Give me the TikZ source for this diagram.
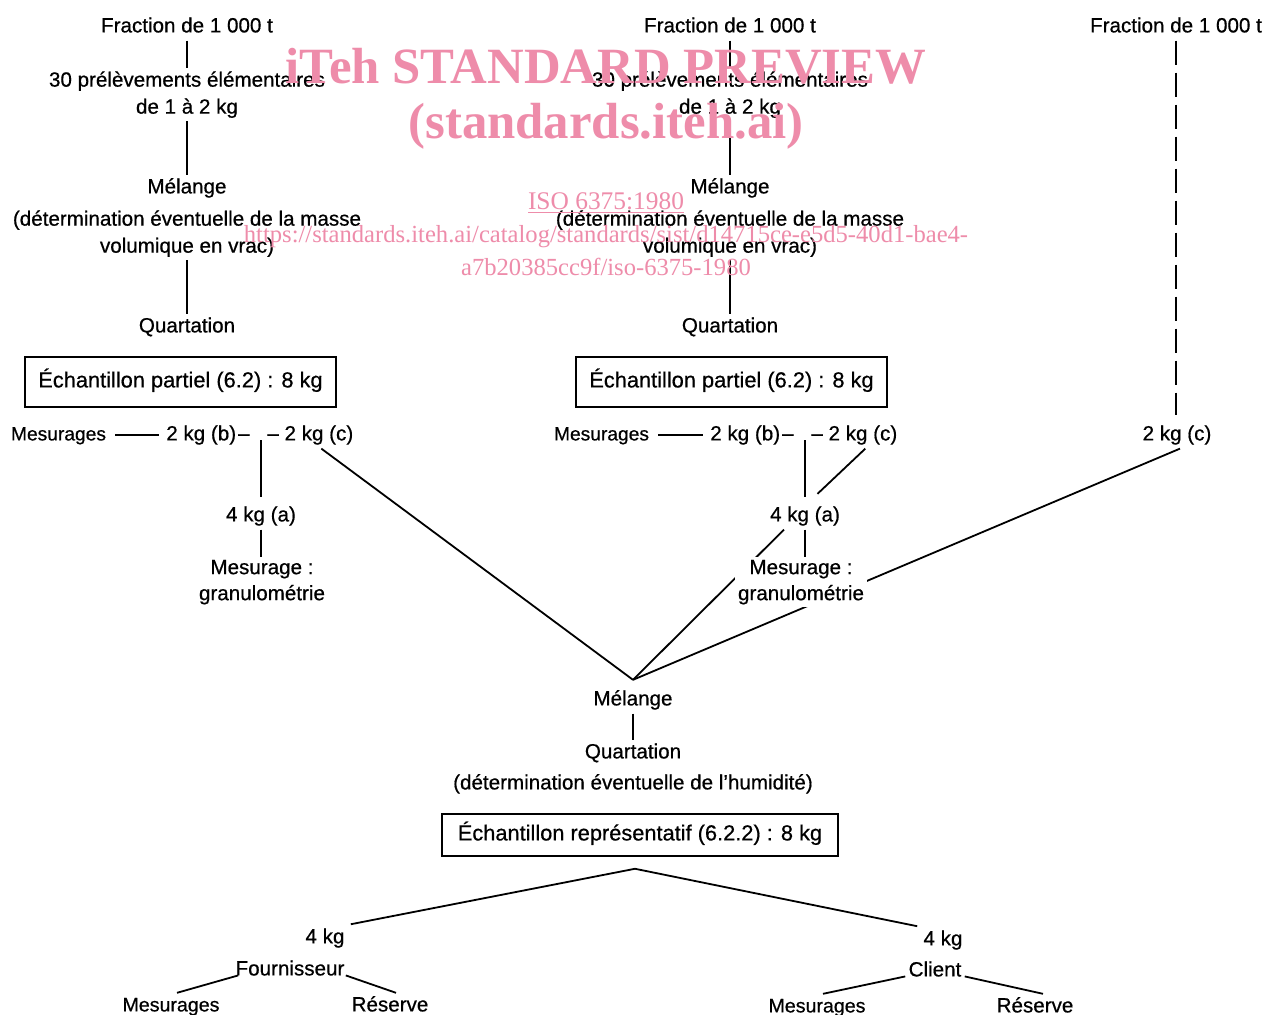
\documentclass[tikz,border=0pt]{standalone}
\usepackage{fontspec}
\setmainfont{Liberation Sans}[FakeBold=0.6]
\newfontfamily\wmfont{Liberation Serif}
\usetikzlibrary{calc}
\definecolor{wmpink}{RGB}{238,140,170}
\pgfdeclarelayer{bg}
\pgfdeclarelayer{lines}
\pgfsetlayers{bg,lines,main}
\begin{document}
\begin{tikzpicture}[x=0.5pt,y=-0.5pt,
  txt/.style={font=\fontsize{10.3}{13.5}\selectfont, inner sep=1.5pt, text height=7.6pt, text depth=2.4pt, yshift=-1.1pt},
  txtm/.style={font=\fontsize{10.3}{13.5}\selectfont, inner sep=1.5pt, align=center, yshift=-1.1pt},
  txtg/.style={font=\fontsize{10.3}{13}\selectfont, inner sep=1.5pt, align=center, yshift=-1.1pt},
  boxed/.style={draw, line width=0.75pt, font=\fontsize{10.9}{13}\selectfont, text height=7.9pt, text depth=2.5pt, inner sep=0pt, minimum width=155.5pt, minimum height=25pt},
  conn/.style={line width=0.9pt},
  wm/.style={text=wmpink, inner sep=0pt}]
\useasboundingbox (0,0) rectangle (1268,1014);
\begin{pgfonlayer}{bg}
\fill[white] (0,0) rectangle (1268,1014);
\end{pgfonlayer}

% ---------- column 1 ----------
\node[txt]  (f1) at (187,25) {Fraction de 1 000 t};
\node[txtm] (p1) at (187,92.5) {30 prélèvements élémentaires\\de 1 à 2 kg};
\node[txt]  (m1) at (187,186) {Mélange};
\node[txtm] (d1) at (187,231.5) {(détermination éventuelle de la masse\\volumique en vrac)};
\node[txt]  (q1) at (187,325) {Quartation};
\node[boxed] (e1) at (180.5,382) {Échantillon partiel (6.2) : 8 kg};
\node[txt, font=\fontsize{9.6}{13}\selectfont] (r1) at (58.5,433) {Mesurages};
\node[txt,anchor=east] (b1) at (253,433) {2 kg (b)\kern1pt–};
\node[txt,anchor=west] (c1) at (264,433) {– 2 kg (c)};
\coordinate (j1) at (261,440);
\node[txt]  (a1) at (261,514) {4 kg (a)};
\node[txtg] (g1) at (262,580) {Mesurage :\\granulométrie};

% ---------- column 2 ----------
\node[txt]  (f2) at (730,25) {Fraction de 1 000 t};
\node[txtm] (p2) at (730,92.5) {30 prélèvements élémentaires\\de 1 à 2 kg};
\node[txt]  (m2) at (730,186) {Mélange};
\node[txtm] (d2) at (730,231.5) {(détermination éventuelle de la masse\\volumique en vrac)};
\node[txt]  (q2) at (730,325) {Quartation};
\node[boxed] (e2) at (731.5,382) {Échantillon partiel (6.2) : 8 kg};
\node[txt, font=\fontsize{9.6}{13}\selectfont] (r2) at (601.5,433) {Mesurages};
\node[txt,anchor=east] (b2) at (797,433) {2 kg (b)\kern1pt–};
\node[txt,anchor=west] (c2) at (808,433) {– 2 kg (c)};
\coordinate (j2) at (805,440);
\node[txt]  (a2) at (805,514) {4 kg (a)};
\node[txtg, fill=white] (g2) at (801,580) {Mesurage :\\granulométrie};

% ---------- column 3 ----------
\node[txt] (f3) at (1176,25) {Fraction de 1 000 t};
\node[txt] (c3) at (1177,433) {2 kg (c)};

% ---------- lower part ----------
\node[txt] (m3) at (633,698) {Mélange};
\node[txt] (q3) at (633,751) {Quartation};
\node[txt] (h3) at (633,782) {(détermination éventuelle de l’humidité)};
\node[boxed, minimum width=198pt, minimum height=21pt] (e3) at (640,835) {Échantillon représentatif (6.2.2) : 8 kg};
\coordinate (top) at ([xshift=-2.5pt,yshift=-6pt]e3.south);
\node[txt] (k1) at (325,936) {4 kg};
\node[txt] (k2) at (943,938) {4 kg};
\node[txt] (fo) at (290,968) {Fournisseur};
\node[txt] (cl) at (935,969) {Client};
\node[txt, font=\fontsize{9.8}{13}\selectfont] (ms1) at (171,1004) {Mesurages};
\node[txt] (re1) at (390,1004) {Réserve};
\node[txt, font=\fontsize{9.8}{13}\selectfont] (ms2) at (817,1005) {Mesurages};
\node[txt] (re2) at (1035,1005) {Réserve};

\coordinate (apex) at ([yshift=3.5pt]m3.north);

\begin{pgfonlayer}{lines}
% column 1
\draw[conn] (f1.south) -- (f1.south |- p1.north);
\draw[conn] (p1.south) -- (p1.south |- m1.north);
\draw[conn] (d1.south) -- (d1.south |- q1.north);
\draw[conn, shorten <=3pt, shorten >=2pt] (r1.east) -- (b1.west);
\draw[conn, shorten >=3pt] (j1) -- (j1 |- a1.north);
\draw[conn] (a1.south) -- (a1.south |- g1.north);
\draw[conn] ([xshift=5.5pt]c1.south) -- (apex);
% column 2
\draw[conn] (f2.south) -- (f2.south |- p2.north);
\draw[conn] (p2.south) -- (p2.south |- m2.north);
\draw[conn] (d2.south) -- (d2.south |- q2.north);
\draw[conn, shorten <=3pt, shorten >=2pt] (r2.east) -- (b2.west);
\draw[conn, shorten >=3pt] (j2) -- (j2 |- a2.north);
\draw[conn] (a2.south) -- (a2.south |- g2.north);
\draw[conn, shorten >=6.5pt] ([xshift=5.5pt]c2.south) -- ([xshift=1.5pt]a2.north);
\draw[conn] ([xshift=-10.5pt]a2.south) -- (apex);
% column 3
\draw[conn, dash pattern=on 12pt off 4pt, shorten >=3.5pt] (f3.south) -- (f3.south |- c3.north);
\draw[conn] ([xshift=1.5pt]c3.south) -- (apex);
% lower part
\draw[conn] (m3.south) -- (m3.south |- q3.north);
\draw[conn, shorten >=1.5pt] (top) -- (k1.north east);
\draw[conn, shorten >=1.5pt] (top) -- (k2.north west);
\draw[conn] ([xshift=3pt]fo.base west) -- ([xshift=3pt]ms1.north);
\draw[conn] ([xshift=-1pt]fo.base east) -- ([xshift=3pt]re1.north);
\draw[conn] (cl.base west) -- ([xshift=3pt]ms2.north);
\draw[conn] (cl.base east) -- ([xshift=4pt]re2.north);
\end{pgfonlayer}

% ---------- watermark ----------
\node[wm, font=\wmfont\bfseries\fontsize{25.4}{28}\selectfont] (w1) at (606,66) {iTeh STANDARD PREVIEW};
\node[wm, font=\wmfont\bfseries\fontsize{25.4}{28}\selectfont] (w2) at (606,126) {(standards.iteh.ai)};
\node[wm, font=\wmfont\fontsize{12.7}{14}\selectfont] (w3) at (606,203) {\underline{ISO 6375:1980}};
\node[wm, font=\wmfont\fontsize{12.3}{14}\selectfont] (w4) at (606,237) {https://standards.iteh.ai/catalog/standards/sist/d14715ce-e5d5-40d1-bae4-};
\node[wm, font=\wmfont\fontsize{12.3}{14}\selectfont] (w5) at (606,267) {a7b20385cc9f/iso-6375-1980};
\end{tikzpicture}
\end{document}
